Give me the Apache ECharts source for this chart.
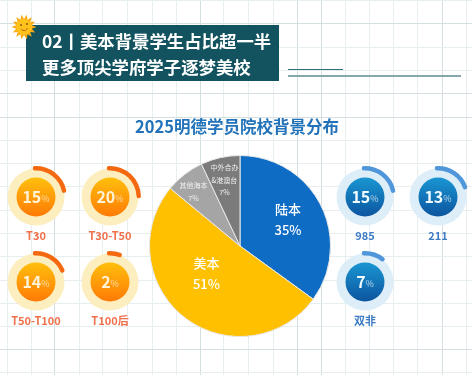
<!DOCTYPE html>
<html>
<head>
<meta charset="utf-8">
<style>
html, body { margin: 0; padding: 0; background: #fff; }
#chart { width: 472px; height: 375px; }
</style>
<script src="https://cdn.jsdelivr.net/npm/echarts@6/dist/echarts.min.js"></script>
</head>
<body>
<div id="chart"></div>
<script>
var FONT = '"Noto Sans CJK SC", "Noto Sans", sans-serif';

var pieNames = ['陆本', '美本', '其他海本', '中外合办\n&港澳台'];
var pieValues = [35, 51, 7, 7];
var pieColors = ['#0e6cc4', '#ffc000', '#a5a5a5', '#7b7b7b'];

var orangeNames = ['T30', 'T30-T50', 'T50-T100', 'T100后'];
var orangeValues = [15, 20, 14, 2];
var orangeArcs = [22, 25, 19, 6];

var blueNames = ['985', '211', '双非'];
var blueValues = [15, 13, 7];
var blueArcs = [22, 20, 11];

var orangeCenters = [[36, 197], [110, 197], [36, 282], [110, 282]];
var blueCenters = [[365, 197], [438, 197], [365, 282]];

function disc(center, radius, color, value, textColor) {
    return {
        type: 'pie',
        center: center,
        radius: [0, radius],
        silent: true,
        animation: false,
        itemStyle: { color: color },
        label: value === undefined ? { show: false } : {
            show: true,
            position: 'center',
            formatter: '{n|' + value + '}{p|%}',
            rich: {
                n: { fontFamily: FONT, fontSize: 16, fontWeight: 'bold', color: textColor },
                p: { fontFamily: FONT, fontSize: 9, color: textColor, opacity: 0.7, padding: [3, 0, 0, 0] }
            }
        },
        labelLine: { show: false },
        data: [{ value: 1 }]
    };
}

function arc(center, value, color) {
    return {
        type: 'gauge',
        center: center,
        radius: 31,
        startAngle: 92,
        endAngle: -268,
        min: 0,
        max: 100,
        silent: true,
        animation: false,
        progress: { show: true, roundCap: true, width: 4.5, itemStyle: { color: color } },
        axisLine: { show: false },
        axisTick: { show: false },
        splitLine: { show: false },
        axisLabel: { show: false },
        pointer: { show: false },
        anchor: { show: false },
        title: { show: false },
        detail: { show: false },
        data: [{ value: value }]
    };
}

function gradient(top, bottom) {
    return new echarts.graphic.LinearGradient(0, 0, 0, 1, [
        { offset: 0, color: top },
        { offset: 1, color: bottom }
    ]);
}

// title 组件自带 5px padding，这里减掉
function nameTitle(text, center, color) {
    return {
        text: text,
        left: center[0] - 5,
        top: center[1] + 28,
        textAlign: 'center',
        textStyle: { fontFamily: FONT, fontSize: 11, fontWeight: 'bold', color: color }
    };
}

var titles = [{
    text: '2025明德学员院校背景分布',
    left: 232,
    top: 113,
    textAlign: 'center',
    textStyle: { fontFamily: FONT, fontSize: 16.5, fontWeight: 'bold', color: '#2273b9' }
}];
var series = [];

// 左右两组小环
orangeCenters.forEach(function (c, i) {
    titles.push(nameTitle(orangeNames[i], c, '#f0704a'));
    series.push(disc(c, 28.5, '#fdeec0'));
    series.push(disc(c, 19.5, gradient('#ffbf0c', '#ff7a06'), orangeValues[i], '#fff4d8'));
    series.push(arc(c, orangeArcs[i], '#f4690f'));
});
blueCenters.forEach(function (c, i) {
    titles.push(nameTitle(blueNames[i], c, '#3d7cc4'));
    series.push(disc(c, 28.5, '#deeef8'));
    series.push(disc(c, 19.5, gradient('#1a96d2', '#0c559f'), blueValues[i], '#f2fbff'));
    series.push(arc(c, blueArcs[i], '#4f96da'));
});

// 中间大饼图
var labelShift = [[5, -5], [-4, -11], [-17, -16], [-5, -19]];
series.push({
    type: 'pie',
    center: [240, 246],
    radius: [0, 90.5],
    startAngle: 90,
    silent: true,
    animation: false,
    avoidLabelOverlap: false,
    itemStyle: { borderColor: '#e8e8e8', borderWidth: 1 },
    label: { position: 'inside', fontFamily: FONT },
    labelLine: { show: false },
    labelLayout: function (params) {
        return { dx: labelShift[params.dataIndex][0], dy: labelShift[params.dataIndex][1] };
    },
    data: pieValues.map(function (v, i) {
        var small = i > 1;
        return {
            name: pieNames[i],
            value: v,
            itemStyle: { color: pieColors[i] },
            label: {
                formatter: '{b}\n{c}%',
                fontSize: small ? 7 : 13,
                fontWeight: small ? 'normal' : 500,
                lineHeight: small ? 12.5 : 21,
                color: small ? '#efefef' : '#fff'
            }
        };
    })
});

var bgLines = [];
var vLines = [7, 31, 54, 79, 102, 127, 152, 176, 200, 223, 248, 273, 297, 321, 345, 369, 393, 417, 442, 466];
var hLines = [0, 23, 47, 70, 93, 117, 140, 163, 186, 210, 233, 256, 280, 303, 326, 349, 372];
var strongV = [54, 200, 297, 321, 442];
var strongH = [23, 93, 117, 349];
vLines.forEach(function (x) {
    bgLines.push({ type: 'line', shape: { x1: x + 0.5, y1: 0, x2: x + 0.5, y2: 375 }, style: { stroke: strongV.indexOf(x) >= 0 ? '#d3dfe1' : '#e6eef0', lineWidth: 1 }, z: -10 });
});
hLines.forEach(function (y) {
    bgLines.push({ type: 'line', shape: { x1: 0, y1: y + 0.5, x2: 472, y2: y + 0.5 }, style: { stroke: strongH.indexOf(y) >= 0 ? '#d3dfe1' : '#e6eef0', lineWidth: 1 }, z: -10 });
});

// 太阳的光芒
var sunPoints = [];
for (var k = 0; k < 28; k++) {
    var r = k % 2 === 0 ? 12.5 : 8;
    var a = Math.PI * k / 14;
    sunPoints.push([24 + r * Math.cos(a), 27 + r * Math.sin(a)]);
}

var chart = echarts.init(document.getElementById('chart'), null, { renderer: 'canvas' });
chart.setOption({
    backgroundColor: '#fff',
    animation: false,
    title: titles,
    graphic: bgLines.concat([
        { type: 'rect', shape: { x: 26, y: 25, width: 253, height: 56 }, style: { fill: '#12535f' }, z: 1 },
        { type: 'text', style: { x: 42, y: 41, text: '02丨美本背景学生占比超一半', verticalAlign: 'middle', fontFamily: FONT, fontSize: 17.4, fontWeight: 'bold', fill: '#fff' }, z: 2 },
        { type: 'text', style: { x: 42, y: 67, text: '更多顶尖学府学子逐梦美校', verticalAlign: 'middle', fontFamily: FONT, fontSize: 17.4, fontWeight: 'bold', fill: '#fff' }, z: 2 },
        { type: 'line', shape: { x1: 288, y1: 69.5, x2: 343, y2: 69.5 }, style: { stroke: '#2f7178', lineWidth: 1 }, z: 1 },
        { type: 'line', shape: { x1: 288, y1: 76, x2: 461, y2: 76 }, style: { stroke: '#86a8ab', lineWidth: 2 }, z: 1 },
        { type: 'polygon', shape: { points: sunPoints }, style: { fill: '#f9a913' }, z: 3 },
        { type: 'circle', shape: { cx: 24, cy: 27, r: 8 }, style: { fill: '#ffc21a' }, z: 3 },
        { type: 'circle', shape: { cx: 21, cy: 25, r: 1 }, style: { fill: '#8a5a10' }, z: 4 },
        { type: 'circle', shape: { cx: 27, cy: 24, r: 1 }, style: { fill: '#8a5a10' }, z: 4 },
        { type: 'arc', shape: { cx: 24, cy: 27, r: 3.5, startAngle: 0.3, endAngle: 2.6 }, style: { stroke: '#b8641a', lineWidth: 1, fill: 'none' }, z: 4 }
    ]),
    series: series
});
</script>
</body>
</html>
